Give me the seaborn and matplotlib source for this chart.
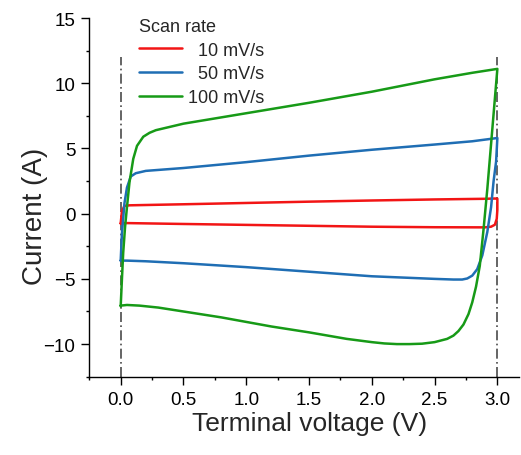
import numpy as np
import pandas as pd
import matplotlib
matplotlib.use("Agg")
import matplotlib.pyplot as plt
from matplotlib.ticker import MultipleLocator
import seaborn as sns

# CV loops: charge branch, right turn, discharge branch
red_v = [0.00, 0.01, 0.03, 0.07, 0.5, 1.0, 1.5, 2.0, 2.5, 2.9, 2.98, 3.00,
         3.00, 2.995, 2.98, 2.95, 2.9, 2.5, 2.0, 1.5, 1.0, 0.5, 0.1, 0.03, 0.0]
red_i = [-0.75, 0.2, 0.6, 0.64, 0.72, 0.82, 0.92, 1.01, 1.09, 1.14, 1.16, 1.15,
         0.3, -0.4, -0.85, -1.0, -1.05, -1.04, -1.0, -0.93, -0.86, -0.79, -0.73, -0.72, -0.75]

blue_v = [0.0, 0.01, 0.03, 0.05, 0.08, 0.12, 0.2, 0.5, 1.0, 1.5, 2.0, 2.5, 2.8, 3.0,
          2.99, 2.97, 2.95, 2.92, 2.88, 2.84, 2.8, 2.76, 2.72, 2.65, 2.5, 2.0, 1.5, 1.0,
          0.5, 0.2, 0.05, 0.0]
blue_i = [-3.6, -1.5, 0.8, 2.0, 2.85, 3.1, 3.28, 3.5, 3.95, 4.45, 4.9, 5.3, 5.55, 5.8,
          4.0, 2.5, 0.5, -1.4, -3.2, -4.25, -4.75, -4.97, -5.05, -5.05, -5.0, -4.8, -4.45, -4.1,
          -3.8, -3.65, -3.6, -3.6]

green_v = [0.0, 0.01, 0.02, 0.035, 0.05, 0.07, 0.1, 0.13, 0.18, 0.23, 0.28, 0.5, 1.0, 1.5,
           2.0, 2.5, 2.8, 3.0, 2.96, 2.92, 2.89, 2.86, 2.83, 2.8, 2.77, 2.73, 2.69, 2.65,
           2.6, 2.5, 2.4, 2.3, 2.2, 2.1, 2.0, 1.8, 1.5, 1.2, 1.0, 0.8, 0.6, 0.4, 0.3,
           0.15, 0.05, 0.0]
green_i = [-7.1, -5.0, -3.0, -1.0, 0.5, 2.4, 4.2, 5.2, 5.9, 6.2, 6.4, 6.9, 7.7, 8.5,
           9.35, 10.3, 10.8, 11.1, 6.5, 1.9, -1.2, -4.0, -5.6, -6.8, -7.7, -8.5, -9.0, -9.35,
           -9.6, -9.85, -9.97, -10.0, -10.0, -9.95, -9.85, -9.6, -9.1, -8.65, -8.3, -7.95,
           -7.65, -7.35, -7.2, -7.05, -7.0, -7.05]

rate_labels = ["  10 mV/s", "  50 mV/s", "100 mV/s"]
rate_colors = ["#F21515", "#1F6EB4", "#179A17"]
limit_v = [0.0, 3.0]

sns.set_theme(style="ticks")
plt.rcParams["font.family"] = ["Liberation Sans", "DejaVu Sans"]
plt.rcParams["axes.unicode_minus"] = True

frames = []
for lab, v, i in zip(rate_labels, [red_v, blue_v, green_v], [red_i, blue_i, green_i]):
    frames.append(pd.DataFrame({"V": v, "I": i, "rate": lab, "order": np.arange(len(v))}))
df = pd.concat(frames, ignore_index=True)

fig = plt.figure(figsize=(5.21, 4.56), dpi=100)
ax = fig.add_axes([0.1714, 0.1717, 0.8242, 0.7866])

ax.vlines(limit_v, -12.5, 12.0, colors="#4a4a4a", linestyles=(0, (6, 2, 1, 2)),
          linewidth=1.2, zorder=1)

sns.lineplot(data=df, x="V", y="I", hue="rate", palette=rate_colors, sort=False,
             estimator=None, linewidth=1.8, ax=ax, zorder=3)

ax.set_xlim(-0.25, 3.17)
ax.set_ylim(-12.5, 15)
ax.xaxis.set_major_locator(MultipleLocator(0.5))
ax.xaxis.set_minor_locator(MultipleLocator(0.25))
ax.yaxis.set_major_locator(MultipleLocator(5))
ax.yaxis.set_minor_locator(MultipleLocator(2.5))
ax.xaxis.set_major_formatter(plt.FuncFormatter(lambda x, p: f"{x:.1f}"))
ax.tick_params(which="major", length=6, width=1, labelsize=13.5, color="black",
               labelcolor="black", pad=4, direction="out")
ax.tick_params(which="minor", length=2.5, width=1, color="black", direction="out")

for side in ["top", "right"]:
    ax.spines[side].set_visible(False)
for side in ["left", "bottom"]:
    ax.spines[side].set_color("black")
    ax.spines[side].set_linewidth(1.0)

ax.set_xlabel("Terminal voltage (V)", fontsize=19)
ax.set_ylabel("Current (A)", fontsize=20)
ax.xaxis.set_label_coords(0.513, -0.095)
ax.yaxis.set_label_coords(-0.096, 0.449)

leg = ax.legend(title="Scan rate", loc="upper left", bbox_to_anchor=(0.1156, 1.0),
                frameon=False, fontsize=13, title_fontsize=13, alignment="left",
                handlelength=2.4, handletextpad=0.3, labelspacing=0.37,
                borderpad=0, borderaxespad=0)
for line in leg.get_lines():
    line.set_linewidth(1.8)

fig.savefig("out.png", dpi=100)
